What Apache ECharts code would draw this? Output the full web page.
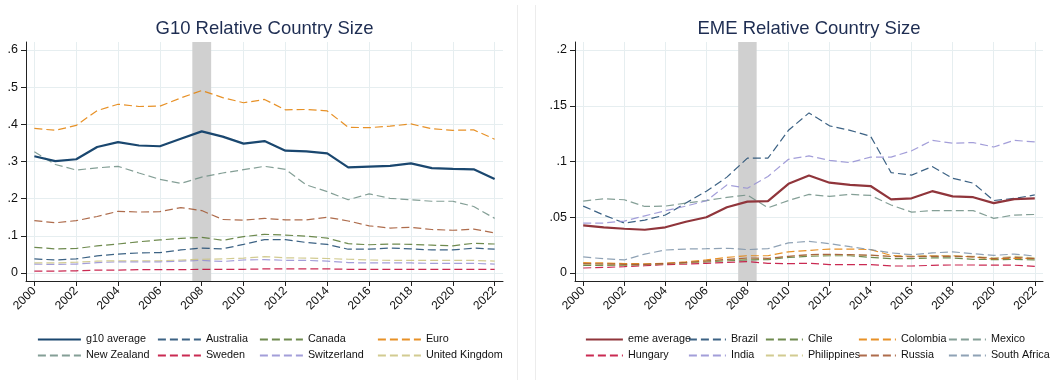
<!DOCTYPE html>
<html>
<head>
<meta charset="utf-8">
<title>Relative Country Size</title>
<script src="https://cdn.jsdelivr.net/npm/echarts@6/dist/echarts.min.js"></script>
<style>
  html, body { margin: 0; padding: 0; background: #ffffff; }
  #chart { width: 1053px; height: 385px; }
</style>
</head>
<body>
<div id="chart"></div>
<script>
// ---- data -------------------------------------------------------------
const years = [2000, 2001, 2002, 2003, 2004, 2005, 2006, 2007, 2008, 2009, 2010, 2011,
               2012, 2013, 2014, 2015, 2016, 2017, 2018, 2019, 2020, 2021, 2022];
const yearTicks = [2000, 2002, 2004, 2006, 2008, 2010, 2012, 2014, 2016, 2018, 2020, 2022];
const g10Ticks = [0, 0.1, 0.2, 0.3, 0.4, 0.5, 0.6];
const emeTicks = [0, 0.05, 0.1, 0.15, 0.2];
const crisisBand = [2007.55, 2008.45];

// G10 panel
const g10Average = [0.314, 0.301, 0.306, 0.339, 0.352, 0.343, 0.341, 0.361, 0.381, 0.367, 0.348, 0.355,
                    0.329, 0.327, 0.322, 0.284, 0.286, 0.288, 0.295, 0.282, 0.280, 0.279, 0.253];
const australia = [0.038, 0.035, 0.038, 0.046, 0.051, 0.054, 0.055, 0.062, 0.067, 0.065, 0.077, 0.090,
                   0.090, 0.082, 0.077, 0.064, 0.064, 0.067, 0.065, 0.062, 0.062, 0.067, 0.064];
const canada = [0.069, 0.065, 0.066, 0.073, 0.078, 0.084, 0.089, 0.093, 0.096, 0.088, 0.098, 0.104,
                0.102, 0.099, 0.094, 0.079, 0.076, 0.078, 0.077, 0.075, 0.073, 0.080, 0.078];
const euro = [0.389, 0.384, 0.397, 0.437, 0.454, 0.448, 0.449, 0.471, 0.491, 0.472, 0.458, 0.467,
              0.439, 0.440, 0.436, 0.392, 0.391, 0.395, 0.401, 0.388, 0.384, 0.385, 0.360];
const newZealand = [0.326, 0.292, 0.277, 0.283, 0.287, 0.269, 0.252, 0.241, 0.258, 0.269, 0.278, 0.287,
                    0.279, 0.237, 0.219, 0.197, 0.213, 0.201, 0.197, 0.193, 0.193, 0.179, 0.147];
const sweden = [0.005, 0.005, 0.006, 0.008, 0.008, 0.009, 0.009, 0.009, 0.010, 0.010, 0.010, 0.011,
                0.011, 0.011, 0.011, 0.010, 0.010, 0.010, 0.010, 0.010, 0.010, 0.010, 0.010];
const switzerland = [0.024, 0.023, 0.024, 0.028, 0.030, 0.030, 0.030, 0.032, 0.034, 0.031, 0.035, 0.036,
                     0.034, 0.034, 0.032, 0.028, 0.027, 0.027, 0.027, 0.026, 0.026, 0.026, 0.024];
const unitedKingdom = [0.027, 0.027, 0.029, 0.032, 0.033, 0.033, 0.033, 0.035, 0.037, 0.038, 0.040, 0.044,
                       0.041, 0.040, 0.039, 0.037, 0.035, 0.034, 0.034, 0.034, 0.034, 0.034, 0.032];
const japan = [0.141, 0.135, 0.141, 0.152, 0.166, 0.164, 0.165, 0.176, 0.168, 0.144, 0.142, 0.147,
               0.143, 0.143, 0.150, 0.140, 0.127, 0.121, 0.123, 0.117, 0.115, 0.118, 0.108];

// EME panel
const emeAverage = [0.0427, 0.0410, 0.0397, 0.0388, 0.0410, 0.0460, 0.0500, 0.0590, 0.0640, 0.0645, 0.0800, 0.0875,
                    0.0810, 0.0790, 0.0780, 0.0660, 0.0670, 0.0734, 0.0687, 0.0680, 0.0627, 0.0663, 0.0669];
const brazil = [0.0600, 0.0520, 0.0448, 0.0475, 0.0520, 0.0627, 0.0734, 0.0860, 0.1030, 0.1030, 0.1280, 0.1436,
                0.1320, 0.1280, 0.1227, 0.0900, 0.0878, 0.0955, 0.0850, 0.0806, 0.0650, 0.0669, 0.0700];
const chile = [0.0069, 0.0068, 0.0068, 0.0072, 0.0080, 0.0090, 0.0100, 0.0110, 0.0118, 0.0120, 0.0140, 0.0150,
               0.0155, 0.0155, 0.0140, 0.0129, 0.0129, 0.0135, 0.0135, 0.0123, 0.0120, 0.0122, 0.0117];
const colombia = [0.0093, 0.0090, 0.0085, 0.0083, 0.0087, 0.0100, 0.0117, 0.0140, 0.0155, 0.0155, 0.0190, 0.0203,
                  0.0215, 0.0215, 0.0210, 0.0158, 0.0150, 0.0155, 0.0155, 0.0144, 0.0126, 0.0132, 0.0129];
const mexico = [0.0645, 0.0666, 0.0657, 0.0597, 0.0600, 0.0627, 0.0650, 0.0678, 0.0700, 0.0585, 0.0650, 0.0705,
                0.0687, 0.0705, 0.0696, 0.0610, 0.0546, 0.0560, 0.0560, 0.0560, 0.0490, 0.0520, 0.0525];
const hungary = [0.0045, 0.0050, 0.0057, 0.0065, 0.0075, 0.0080, 0.0087, 0.0095, 0.0102, 0.0087, 0.0084, 0.0087,
                 0.0075, 0.0075, 0.0075, 0.0063, 0.0063, 0.0069, 0.0072, 0.0072, 0.0070, 0.0070, 0.0060];
const india = [0.0448, 0.0448, 0.0466, 0.0513, 0.0558, 0.0600, 0.0648, 0.0790, 0.0760, 0.0866, 0.1020, 0.1050,
               0.1010, 0.0990, 0.1040, 0.1040, 0.1096, 0.1190, 0.1164, 0.1170, 0.1130, 0.1190, 0.1176];
const philippines = [0.0078, 0.0076, 0.0072, 0.0075, 0.0082, 0.0092, 0.0105, 0.0118, 0.0128, 0.0128, 0.0148, 0.0162,
                     0.0162, 0.0162, 0.0158, 0.0150, 0.0150, 0.0152, 0.0155, 0.0150, 0.0135, 0.0150, 0.0135];
const russia = [0.0085, 0.0082, 0.0078, 0.0078, 0.0085, 0.0095, 0.0108, 0.0122, 0.0135, 0.0132, 0.0150, 0.0165,
                0.0168, 0.0165, 0.0160, 0.0148, 0.0145, 0.0150, 0.0150, 0.0145, 0.0130, 0.0140, 0.0130];
const southAfrica = [0.0144, 0.0128, 0.0117, 0.0170, 0.0206, 0.0215, 0.0218, 0.0222, 0.0210, 0.0218, 0.0270, 0.0284,
                     0.0263, 0.0236, 0.0210, 0.0180, 0.0164, 0.0180, 0.0190, 0.0173, 0.0158, 0.0170, 0.0152];

// ---- styling ----------------------------------------------------------
const FONT = '"Liberation Sans", Arial, Helvetica, sans-serif';
const PAL = {
  navy: '#1a476f', maroon: '#90353b', green: '#55752f', orange: '#e37e00', teal: '#6e8e84',
  cranberry: '#c10534', lavender: '#938dd2', khaki: '#cac27e', sienna: '#a0522d', blue: '#7b92a8'
};
const DASH = [8, 4];

// panel 0 = G10, panel 1 = EME
const panels = [
  {
    title: 'G10 Relative Country Size',
    grid: { left: 26, top: 42, width: 477, height: 239 },
    yMin: -0.0215, yMax: 0.6215, yTicks: g10Ticks,
    series: [
      { name: 'g10 average', data: g10Average, color: PAL.navy, solid: true },
      { name: 'Australia', data: australia, color: PAL.navy },
      { name: 'Canada', data: canada, color: PAL.green },
      { name: 'Euro', data: euro, color: PAL.orange },
      { name: 'New Zealand', data: newZealand, color: PAL.teal },
      { name: 'Sweden', data: sweden, color: PAL.cranberry },
      { name: 'Switzerland', data: switzerland, color: PAL.lavender },
      { name: 'United Kingdom', data: unitedKingdom, color: PAL.khaki },
      { name: 'Japan', data: japan, color: PAL.sienna, noLegend: true }
    ],
    legendCols: [37, 157, 259, 377], legendItemWidth: 43
  },
  {
    title: 'EME Relative Country Size',
    grid: { left: 575, top: 42, width: 468, height: 239 },
    yMin: -0.00717, yMax: 0.2072, yTicks: emeTicks,
    series: [
      { name: 'eme average', data: emeAverage, color: PAL.maroon, solid: true },
      { name: 'Brazil', data: brazil, color: PAL.navy },
      { name: 'Chile', data: chile, color: PAL.green },
      { name: 'Colombia', data: colombia, color: PAL.orange },
      { name: 'Mexico', data: mexico, color: PAL.teal },
      { name: 'Hungary', data: hungary, color: PAL.cranberry },
      { name: 'India', data: india, color: PAL.lavender },
      { name: 'Philippines', data: philippines, color: PAL.khaki },
      { name: 'Russia', data: russia, color: PAL.sienna },
      { name: 'South Africa', data: southAfrica, color: PAL.blue }
    ],
    legendCols: [585, 688, 765, 858, 948], legendItemWidth: 37
  }
];

const fmtY = v => (v === 0 ? '0' : String(v).replace(/^0\./, '.'));

const option = {
  animation: false,
  backgroundColor: '#ffffff',
  textStyle: { fontFamily: FONT },
  title: [], grid: [], xAxis: [], yAxis: [], legend: [], series: [],
  graphic: [
    // light borders between the two panels
    { type: 'line', shape: { x1: 517.5, y1: 5, x2: 517.5, y2: 380 }, style: { stroke: '#ececec', lineWidth: 1 } },
    { type: 'line', shape: { x1: 535.5, y1: 5, x2: 535.5, y2: 380 }, style: { stroke: '#ececec', lineWidth: 1 } }
  ]
};

panels.forEach((p, i) => {
  const cx = p.grid.left + p.grid.width / 2;
  option.title.push({
    text: p.title, left: cx, top: 19, textAlign: 'center', padding: 0,
    textStyle: { fontFamily: FONT, fontSize: 18.5, fontWeight: 'normal', color: '#1e2d52' }
  });
  option.grid.push(Object.assign({ containLabel: false }, p.grid));

  option.xAxis.push({
    type: 'value', gridIndex: i, min: 1999.6, max: 2022.4,
    axisLine: { show: true, onZero: false, lineStyle: { color: '#222', width: 1 } },
    axisTick: { show: true, length: 5, lineStyle: { color: '#222' }, customValues: yearTicks },
    axisLabel: {
      customValues: yearTicks, rotate: 45, fontSize: 12, color: '#111', margin: 8,
      fontFamily: FONT, formatter: v => String(v)
    },
    splitLine: { show: true, lineStyle: { color: '#e6eef0', width: 1 } }
  });

  option.yAxis.push({
    type: 'value', gridIndex: i, min: p.yMin, max: p.yMax,
    axisLine: { show: true, onZero: false, lineStyle: { color: '#222', width: 1 } },
    axisTick: { show: true, length: 5, lineStyle: { color: '#222' }, customValues: p.yTicks },
    axisLabel: { customValues: p.yTicks, fontSize: 12.5, color: '#111', margin: 8, fontFamily: FONT, formatter: fmtY },
    splitLine: { show: true, lineStyle: { color: '#e6eef0', width: 1 } }
  });

  // shaded 2008 band
  option.series.push({
    type: 'line', xAxisIndex: i, yAxisIndex: i, data: [], silent: true,
    markArea: {
      silent: true, z: 1,
      itemStyle: { color: '#d0d0d0', opacity: 1 },
      data: [[{ xAxis: crisisBand[0] }, { xAxis: crisisBand[1] }]]
    }
  });

  p.series.forEach(s => {
    option.series.push({
      name: s.name, type: 'line', xAxisIndex: i, yAxisIndex: i,
      data: years.map((y, k) => [y, s.data[k]]),
      showSymbol: false, symbol: 'none', smooth: false, z: s.solid ? 4 : 3,
      color: s.color,
      lineStyle: s.solid ? { color: s.color, width: 2.2, type: 'solid' }
                         : { color: s.color, width: 1.2, type: DASH, opacity: 0.85 }
    });
  });

  // legend: two rows, fixed columns
  const named = p.series.filter(s => !s.noLegend).map(s => s.name);
  const nCols = p.legendCols.length;
  p.legendCols.forEach((x, c) => {
    const items = [named[c], named[c + nCols]].filter(Boolean);
    option.legend.push({
      data: items, orient: 'vertical', left: x, top: 334, padding: 0,
      itemWidth: p.legendItemWidth, itemHeight: 12, itemGap: 5,
      selectedMode: false,
      itemStyle: { color: 'rgba(0,0,0,0)', borderWidth: 0, opacity: 0 },
      lineStyle: { width: 1.8 },
      textStyle: { fontFamily: FONT, fontSize: 10.8, color: '#111' }
    });
  });
});

const chart = echarts.init(document.getElementById('chart'), null, { renderer: 'canvas' });
chart.setOption(option);
</script>
</body>
</html>
